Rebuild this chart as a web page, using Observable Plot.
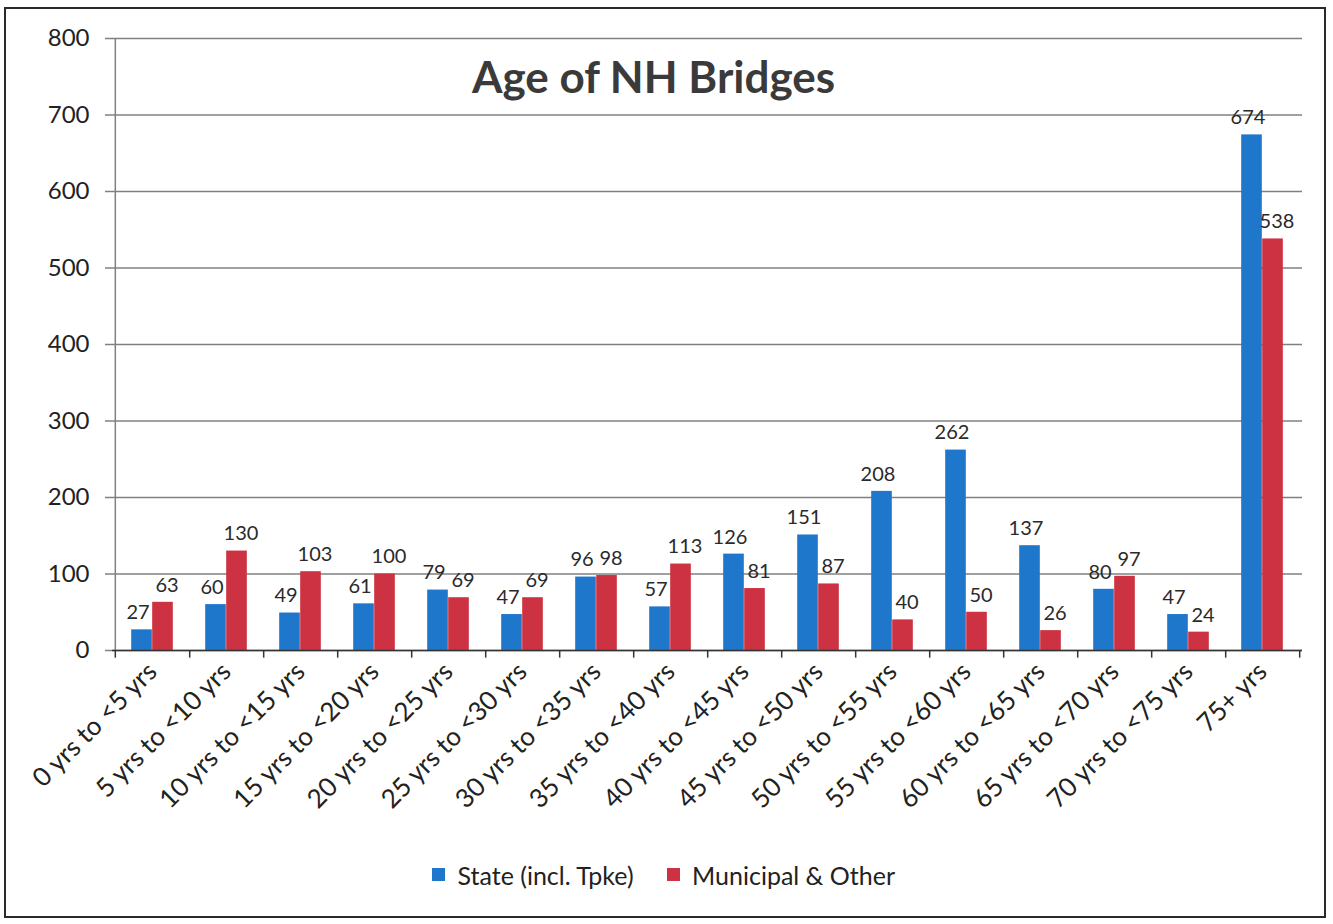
<!DOCTYPE html>
<html>
<head>
<meta charset="utf-8">
<script src="https://cdn.jsdelivr.net/npm/d3@7"></script>
<script src="https://cdn.jsdelivr.net/npm/@observablehq/plot@0.6"></script>
<style>
  html, body { margin: 0; padding: 0; background: #fff; }
  #wrap { position: relative; width: 1333px; height: 924px; overflow: hidden; font-family: Lato, "Open Sans", sans-serif; }
  #frame { position: absolute; left: 4px; top: 7px; width: 1322px; height: 911px; border: 2px solid #2a2a2a; box-sizing: border-box; }
  #chart { position: absolute; left: 0; top: 0; }
  #legend { position: absolute; left: 0; top: 858px; width: 1352px; display: flex; justify-content: center; }
</style>
</head>
<body>
<div id="wrap">
  <div id="frame"></div>
  <div id="chart"></div>
  <div id="legend"></div>
</div>
<script>
const title = "Age of NH Bridges";
const categories = [
  "0 yrs to <5 yrs", "5 yrs to <10 yrs", "10 yrs to <15 yrs", "15 yrs to <20 yrs",
  "20 yrs to <25 yrs", "25 yrs to <30 yrs", "30 yrs to <35 yrs", "35 yrs to <40 yrs",
  "40 yrs to <45 yrs", "45 yrs to <50 yrs", "50 yrs to <55 yrs", "55 yrs to <60 yrs",
  "60 yrs to <65 yrs", "65 yrs to <70 yrs", "70 yrs to <75 yrs", "75+ yrs"
];
const seriesNames = ["State (incl. Tpke)", "Municipal & Other"];
const stateValues = [27, 60, 49, 61, 79, 47, 96, 57, 126, 151, 208, 262, 137, 80, 47, 674];
const municipalValues = [63, 130, 103, 100, 69, 69, 98, 113, 81, 87, 40, 50, 26, 97, 24, 538];
const yTicks = [0, 100, 200, 300, 400, 500, 600, 700, 800];
const colors = ["#1f77cc", "#cd3242"];

const state = categories.map((c, i) => ({category: c, series: seriesNames[0], value: stateValues[i]}));
const municipal = categories.map((c, i) => ({category: c, series: seriesNames[1], value: municipalValues[i]}));

const W = 1333, H = 850, mL = 112, mR = 31, mT = 38, mB = H - 650;
const bw = (W - mL - mR) / categories.length;
const barW = 21;
const inner = bw / 2 - barW;
const font = "Lato, 'Open Sans', sans-serif";

const chart = Plot.plot({
  width: W, height: H,
  marginLeft: mL, marginRight: mR, marginTop: mT, marginBottom: mB,
  style: {fontFamily: font, color: "#222", background: "transparent"},
  x: {domain: categories, padding: 0, label: null},
  y: {domain: [0, 800], label: null},
  color: {domain: seriesNames, range: colors},
  marks: [
    Plot.gridY(yTicks, {stroke: "#808080", strokeOpacity: 1, strokeWidth: 1.5}),
    Plot.ruleX([categories[0]], {dx: -bw / 2, y1: 0, y2: 800, stroke: "#808080", strokeWidth: 1.5}),
    Plot.axisY(yTicks, {tickSize: 7, tickPadding: 16, fontSize: 24, stroke: "#808080", strokeWidth: 1.5, fill: "#222", label: null}),
    Plot.barY(state, {x: "category", y: "value", fill: colors[0], insetLeft: inner, insetRight: bw / 2}),
    Plot.barY(municipal, {x: "category", y: "value", fill: colors[1], insetLeft: bw / 2, insetRight: inner}),
    Plot.ruleY([0], {stroke: "#333", strokeWidth: 1.5}),
    Plot.ruleX(categories, {dx: bw / 2, y1: 0, y2: -10, stroke: "#333", strokeWidth: 1.5}),
    Plot.ruleX([categories[0]], {dx: -bw / 2, y1: 0, y2: -10, stroke: "#333", strokeWidth: 1.5}),
    Plot.text(state, {x: "category", y: "value", text: d => String(d.value), dx: -barW / 2 - 4, dy: -17, fontSize: 20, fill: "#2a2a2a"}),
    Plot.text(municipal, {x: "category", y: "value", text: d => String(d.value), dx: barW / 2 + 4, dy: -17, fontSize: 20, fill: "#2a2a2a"}),
    Plot.axisX({tickSize: 0, tickRotate: -45, tickPadding: 17, fontSize: 26, fill: "#222", label: null}),
    Plot.text([title], {frameAnchor: "top", lineAnchor: "middle", dy: 40, dx: -54, fontSize: 44, fontWeight: "bold", fill: "#3a3a3a"})
  ]
});
document.getElementById("chart").appendChild(chart);

const legend = Plot.legend({
  color: {domain: seriesNames, range: colors},
  swatchSize: 13,
  style: {fontFamily: font, fontSize: "25px", color: "#222"}
});
legend.style.gap = "8px";
document.getElementById("legend").appendChild(legend);
</script>
</body>
</html>
